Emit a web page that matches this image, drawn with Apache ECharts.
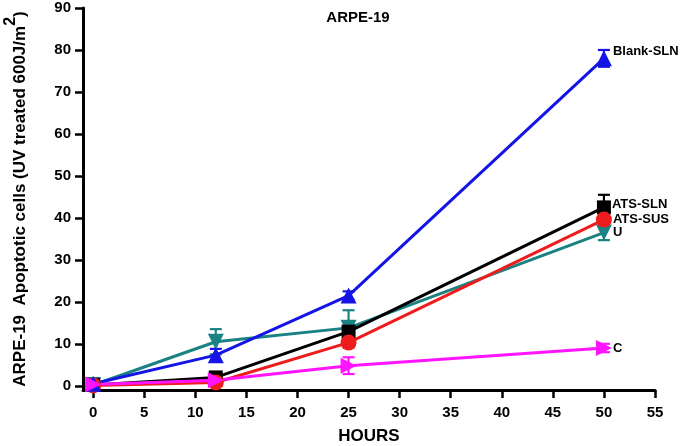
<!DOCTYPE html>
<html><head><meta charset="utf-8">
<script src="https://cdn.jsdelivr.net/npm/echarts@6/dist/echarts.min.js"></script>
<style>html,body{margin:0;padding:0;background:#fff}#c{width:685px;height:446px}</style>
</head><body><div id="c"></div>
<script>
const hours = [0, 12, 25, 50];
const xTicks = [0, 5, 10, 15, 20, 25, 30, 35, 40, 45, 50, 55];
const yTicks = [0, 10, 20, 30, 40, 50, 60, 70, 80, 90];
const seriesNames = ['Blank-SLN', 'ATS-SLN', 'ATS-SUS', 'U', 'C'];
const blankSLN = [0.5, 7.3, 21.5, 78.0];
const atsSLN   = [0.2, 2.0, 12.9, 42.5];
const atsSUS   = [0.1, 0.8, 10.3, 39.6];
const uVals    = [0.2, 10.5, 13.8, 36.5];
const cVals    = [0.3, 1.3, 4.8, 9.0];
const blankErr = [0.8, 1.5, 1.0, 2.0];
const atsSLNErr = [0.3, 0.8, 1.2, 3.0];
const atsSUSErr = [0.3, 0.8, 1.2, 1.5];
const uErr     = [0.4, 3.0, 4.2, 1.8];
const cErr     = [0.4, 0.6, 2.0, 1.0];
const colors = ['#1414e6', '#000000', '#ee1c1c', '#1a8282', '#ff14ff'];
const symbols = ['triangle', 'rect', 'circle', 'triangle', 'triangle'];
const rotates = [0, 0, 0, 180, -90];
const labelOffsets = [[0, -7], [0, -3], [0, 0], [0, 0], [0, 0]];
const values = [blankSLN, atsSLN, atsSUS, uVals, cVals];
const errs = [blankErr, atsSLNErr, atsSUSErr, uErr, cErr];
const FF = 'Liberation Sans, Arial, sans-serif';

const chart = echarts.init(document.getElementById('c'));
const series = [];
const order = [3, 1, 2, 0, 4];
order.forEach(i => {
  const col = colors[i];
  series.push({
    type: 'custom',
    name: seriesNames[i] + ' err',
    data: hours.map((h, k) => [h, values[i][k] - errs[i][k], values[i][k] + errs[i][k]]),
    z: 3,
    renderItem: function (params, api) {
      const x = api.value(0);
      const top = api.coord([x, api.value(2)]);
      const bot = api.coord([x, api.value(1)]);
      const w = 6;
      const st = { stroke: col, lineWidth: 2.2 };
      return { type: 'group', children: [
        { type: 'line', shape: { x1: top[0], y1: top[1], x2: bot[0], y2: bot[1] }, style: st },
        { type: 'line', shape: { x1: top[0] - w, y1: top[1], x2: top[0] + w, y2: top[1] }, style: st },
        { type: 'line', shape: { x1: bot[0] - w, y1: bot[1], x2: bot[0] + w, y2: bot[1] }, style: st }
      ]};
    }
  });
  series.push({
    type: 'line',
    name: seriesNames[i],
    z: 4,
    symbol: symbols[i],
    symbolRotate: rotates[i],
    symbolSize: i === 1 ? 14 : 16,
    lineStyle: { color: col, width: 3 },
    itemStyle: { color: col },
    data: hours.map((h, k) => {
      const d = { value: [h, values[i][k]] };
      if (k === hours.length - 1) {
        d.label = { show: true, formatter: seriesNames[i], position: 'right', distance: 1,
          offset: labelOffsets[i], color: '#000', fontWeight: 'bold', fontSize: 13, fontFamily: FF };
      }
      return d;
    })
  });
});

chart.setOption({
  animation: false,
  title: { text: 'ARPE-19', left: 353, top: 5, textAlign: 'center',
    textStyle: { fontSize: 15, fontWeight: 'bold', color: '#000', fontFamily: FF } },
  grid: { left: 83, right: 30, top: 8, bottom: 56, containLabel: false, outerBoundsMode: 'none' },
  xAxis: {
    type: 'value', min: -1, max: 55,
    name: 'HOURS', nameLocation: 'middle', nameGap: 38,
    nameTextStyle: { fontSize: 17, fontWeight: 'bold', color: '#000', fontFamily: FF },
    axisLine: { onZero: false, lineStyle: { color: '#000', width: 3 } },
    axisTick: { show: true, length: 8, lineStyle: { width: 2.5, color: '#000' }, customValues: xTicks },
    axisLabel: { customValues: xTicks, fontSize: 15, fontWeight: 'bold', color: '#000', margin: 15, fontFamily: FF },
    splitLine: { show: false }
  },
  yAxis: {
    type: 'value', min: -1, max: 90,
    name: '{a|ARPE-19  Apoptotic cells (UV treated 600J/m}{s|2}{a|)}',
    nameLocation: 'middle', nameGap: 54, nameRotate: 90,
    nameTextStyle: { rich: {
      a: { fontSize: 17, fontWeight: 'bold', color: '#000', fontFamily: FF, verticalAlign: 'bottom' },
      s: { fontSize: 16, fontWeight: 'bold', color: '#000', verticalAlign: 'top', padding: [0, 0, 10, 0], fontFamily: FF }
    } },
    axisLine: { onZero: false, lineStyle: { color: '#000', width: 3 } },
    axisTick: { show: true, length: 8, lineStyle: { width: 2.5, color: '#000' }, customValues: yTicks },
    axisLabel: { customValues: yTicks, fontSize: 15, fontWeight: 'bold', color: '#000', margin: 12, fontFamily: FF },
    splitLine: { show: false }
  },
  series: series
});
</script></body></html>
